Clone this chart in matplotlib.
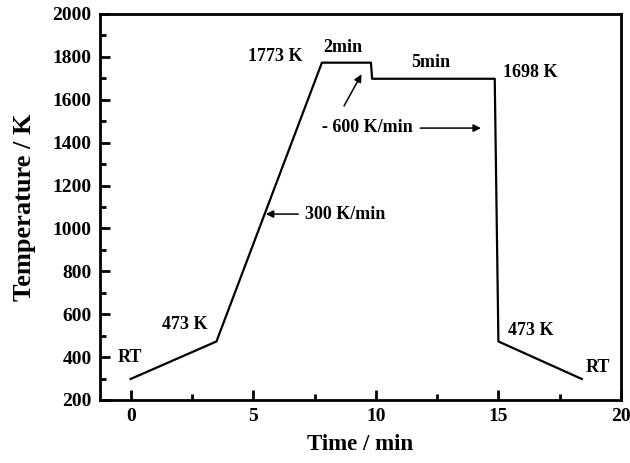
import matplotlib
matplotlib.use('Agg')
import matplotlib.pyplot as plt

# temperature profile
time_min = [0, 3.5, 7.8, 9.8, 9.85, 14.85, 15.0, 18.4]
temp_k = [298, 473, 1773, 1773, 1698, 1698, 473, 298]

plt.rcParams['font.family'] = 'Liberation Serif'
plt.rcParams['font.weight'] = 'bold'

fig = plt.figure(figsize=(6.3, 4.63), dpi=100)
ax = fig.add_axes([100 / 630, 63 / 463, 521 / 630, 386 / 463])

ax.plot(time_min, temp_k, color='black', lw=1.6)

ax.set_xlim(-1.25, 20)
ax.set_ylim(200, 2000)
ax.set_xticks([0, 5, 10, 15, 20])
ax.set_xticks([2.5, 7.5, 12.5, 17.5], minor=True)
ax.set_yticks(range(200, 2001, 200))
ax.set_yticks(range(300, 2000, 200), minor=True)
ax.tick_params(direction='in', which='major', length=7, width=2, labelsize=14, pad=6)
ax.tick_params(direction='in', which='minor', length=4, width=2)
for s in ax.spines.values():
    s.set_linewidth(2)
for lab in ax.get_xticklabels() + ax.get_yticklabels():
    lab.set_fontweight('bold')

ax.set_xlabel('Time / min', fontsize=16.5, fontweight='bold', labelpad=6)
ax.set_ylabel('Temperature / K', fontsize=19, fontweight='bold', labelpad=12)

fs = 13
ax.text(-0.52, 400, 'RT', fontsize=fs, fontweight='bold', va='center')
ax.text(1.28, 554, '473 K', fontsize=fs, fontweight='bold', va='center')
ax.text(4.79, 1800, '1773 K', fontsize=fs, fontweight='bold', va='center')
ax.text(7.85, 1846, '2min', fontsize=fs, fontweight='bold', va='center')
ax.text(11.43, 1776, '5min', fontsize=fs, fontweight='bold', va='center')
ax.text(15.19, 1725, '1698 K', fontsize=fs, fontweight='bold', va='center')
ax.text(7.8, 1473, '- 600 K/min', fontsize=fs, fontweight='bold', va='center')
ax.text(7.1, 1067, '300 K/min', fontsize=fs, fontweight='bold', va='center')
ax.text(15.39, 522, '473 K', fontsize=fs, fontweight='bold', va='center')
ax.text(18.57, 352, 'RT', fontsize=fs, fontweight='bold', va='center')

arw = dict(arrowstyle='-|>', color='black', lw=1.1, mutation_scale=11)
ax.annotate('', xy=(9.47, 1730), xytext=(8.65, 1560), arrowprops=arw)
ax.annotate('', xy=(14.4, 1468), xytext=(11.7, 1468), arrowprops=arw)
ax.annotate('', xy=(5.4, 1067), xytext=(6.95, 1067), arrowprops=arw)

fig.savefig('out.png', dpi=100)
